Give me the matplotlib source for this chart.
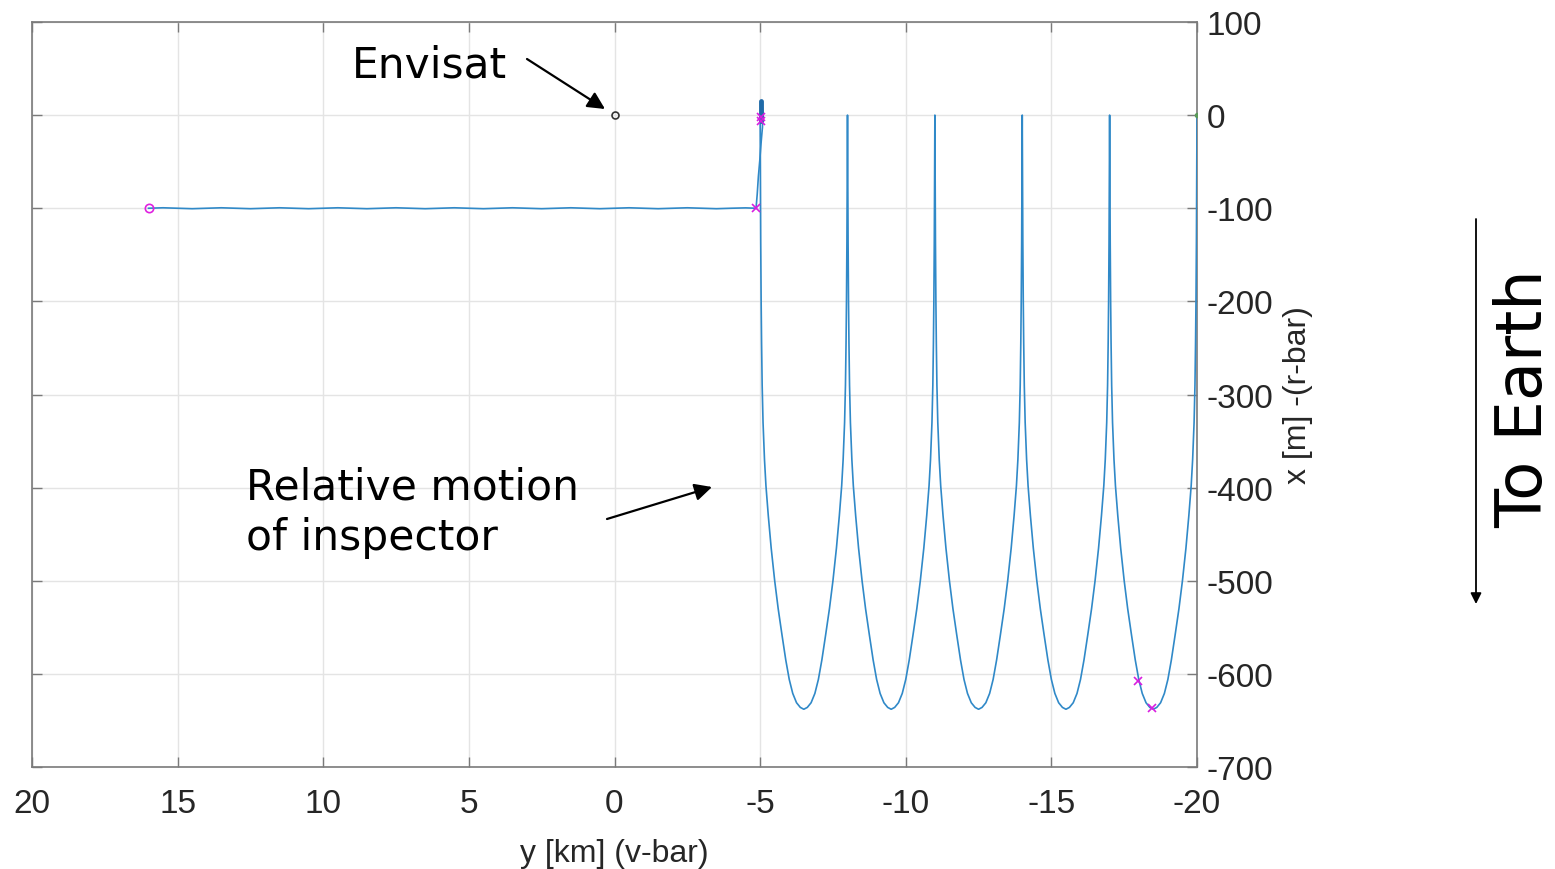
import matplotlib
matplotlib.use("Agg")
import matplotlib.pyplot as plt
from matplotlib import font_manager

# ---------------- data ----------------
xtick_vals = [20, 15, 10, 5, 0, -5, -10, -15, -20]
xtick_labels = ["20", "15", "10", "5", "0", "-5", "-10", "-15", "-20"]
ytick_vals = [100, 0, -100, -200, -300, -400, -500, -600, -700]
ytick_labels = ["100", "0", "-100", "-200", "-300", "-400", "-500", "-600", "-700"]

# drift along the -100 m line (y in km, x in m)
drift_y = [16.0, 15.5, 15.0, 14.5, 14.0, 13.5, 13.0, 12.5, 12.0, 11.5, 11.0, 10.5,
           10.0, 9.5, 9.0, 8.5, 8.0, 7.5, 7.0, 6.5, 6.0, 5.5, 5.0, 4.5, 4.0, 3.5,
           3.0, 2.5, 2.0, 1.5, 1.0, 0.5, 0.0, -0.5, -1.0, -1.5, -2.0, -2.5, -3.0,
           -3.5, -4.0, -4.5, -4.86]
drift_x = [-100.0, -99.5, -100.0, -100.5, -100.0, -99.5, -100.0, -100.5, -100.0, -99.5,
           -100.0, -100.5, -100.0, -99.5, -100.0, -100.5, -100.0, -99.5, -100.0, -100.5,
           -100.0, -99.5, -100.0, -100.5, -100.0, -99.5, -100.0, -100.5, -100.0, -99.5,
           -100.0, -100.5, -100.0, -99.5, -100.0, -100.5, -100.0, -99.5, -100.0, -100.5,
           -100.0, -99.6, -100.0]

# transfer from -100 m up to the target altitude
transfer_y = [-4.86, -4.90, -4.94, -4.99, -5.03, -5.06, -5.08, -5.09, -5.08, -5.06]
transfer_x = [-100.0, -85.0, -66.0, -48.0, -31.0, -20.0, -13.0, 0.0, 6.0, 12.0]

# station keeping near the target
hold_y = [-5.02, -5.02]
hold_x = [-6.0, 15.0]

# one arch of the relative-motion loops: offset from the cusp (km) and depth (m)
arch_d = [0.0, 0.01, 0.02, 0.035, 0.05, 0.07, 0.10, 0.15, 0.20, 0.28, 0.38, 0.50,
          0.62, 0.75, 0.88, 1.00, 1.12, 1.25, 1.38, 1.50,
          1.62, 1.75, 1.88, 2.00, 2.12, 2.25, 2.38, 2.50, 2.62, 2.72, 2.80, 2.85,
          2.90, 2.93, 2.95, 2.965, 2.98, 2.99, 3.0]
arch_x = [0.0, -70.0, -135.0, -200.0, -245.0, -290.0, -330.0, -370.0, -398.0, -430.0,
          -465.0, -500.0, -530.0, -558.0, -585.0, -606.0, -621.0, -631.0, -636.0, -638.0,
          -636.0, -631.0, -621.0, -606.0, -585.0, -558.0, -530.0, -500.0, -465.0, -430.0,
          -398.0, -370.0, -330.0, -290.0, -245.0, -200.0, -135.0, -70.0, 0.0]
# cusp positions where each arch starts (km)
arch_starts = [-5.0, -8.0, -11.0, -14.0, -17.0]

# markers
start_pt = (16.0, -100.0)
target_pt = (0.0, 0.0)
end_pt = (-20.0, 0.0)
mark_y = [-4.86, -5.02, -5.02, -17.97, -18.45]
mark_x = [-100.0, -2.0, -6.0, -608.0, -637.0]

# ---------------- figure ----------------
W, H = 1555, 870
fig = plt.figure(figsize=(W / 100, H / 100), dpi=100)
plt.rcParams["axes.unicode_minus"] = False

names = {f.name for f in font_manager.fontManager.ttflist}
tick_family = "Liberation Sans Narrow" if "Liberation Sans Narrow" in names else "Liberation Sans"
tick_size = 27 if tick_family == "Liberation Sans Narrow" else 24

ax = fig.add_axes([32 / W, 1 - 768 / H, (1197 - 32) / W, (768 - 23) / H])
ax.set_xlim(20, -20)
ax.set_ylim(-700, 100)

line_col = "#3089c8"
ax.plot(drift_y, drift_x, color=line_col, lw=1.2, zorder=3)
ax.plot(transfer_y, transfer_x, color=line_col, lw=1.2, zorder=3)

loop_y, loop_x = [], []
for s in arch_starts:
    for d, xv in zip(arch_d, arch_x):
        loop_y.append(s - d)
        loop_x.append(xv)
ax.plot(loop_y, loop_x, color=line_col, lw=1.2, zorder=3)
ax.plot(hold_y, hold_x, color="#1f6aa8", lw=3.5, solid_capstyle="round", zorder=4)

ax.plot(*start_pt, marker="o", ms=6, mfc="none", mec="#e020e0", mew=1.2, zorder=5)
ax.plot(*target_pt, marker="o", ms=5, mfc="none", mec="#333333", mew=1.2, zorder=5)
ax.plot(*end_pt, marker="o", ms=3, mfc="#5a9a5a", mec="#5a9a5a", zorder=5)
ax.plot(mark_y, mark_x, ls="none", marker="x", ms=6, color="#d81ee0", mew=1.2, zorder=6)

ax.set_xticks(xtick_vals)
ax.set_xticklabels(xtick_labels)
ax.set_yticks(ytick_vals)
ax.set_yticklabels(ytick_labels)
ax.yaxis.tick_right()
ax.yaxis.set_label_position("right")
ax.grid(True, color="#e4e4e4", lw=1.0, zorder=0)
ax.set_axisbelow(True)

spine_col = "#7a7a7a"
for sp in ax.spines.values():
    sp.set_color(spine_col)
    sp.set_linewidth(1.2)
ax.tick_params(axis="both", direction="in", length=7, width=1.0, color=spine_col,
               labelcolor="#262626", labelsize=tick_size, top=True, bottom=True,
               left=True, right=True, labelleft=False, labelright=True)
ax.tick_params(axis="x", pad=15)
ax.tick_params(axis="y", pad=7)
for lab in ax.get_xticklabels() + ax.get_yticklabels():
    lab.set_family(tick_family)

ax.set_xlabel("y [km] (v-bar)", fontsize=tick_size - 1, family=tick_family, color="#262626",
              labelpad=14)
ax.set_ylabel("x [m] -(r-bar)", fontsize=tick_size - 1, family=tick_family, color="#262626",
              labelpad=7, rotation=90)

# ---------------- annotations (figure pixel coordinates) ----------------
def fp(x, y):
    return (x / W, 1 - y / H)

ann_font = "DejaVu Sans"
fig.text(*fp(352, 78), "Envisat", fontsize=30.5, family=ann_font, ha="left", va="baseline")
fig.text(*fp(246, 500), "Relative motion", fontsize=30.5, family=ann_font, ha="left",
         va="baseline")
fig.text(*fp(246, 550), "of inspector", fontsize=30.5, family=ann_font, ha="left",
         va="baseline")

arrow_kw = dict(arrowstyle="-|>", color="black", lw=1.6, mutation_scale=26, shrinkA=0, shrinkB=0)
ax.annotate("", xy=fp(605, 110), xytext=fp(527, 60), xycoords="figure fraction",
            textcoords="figure fraction", arrowprops=arrow_kw)
ax.annotate("", xy=fp(712, 488), xytext=fp(607, 520), xycoords="figure fraction",
            textcoords="figure fraction", arrowprops=arrow_kw)
ax.annotate("", xy=fp(1476, 605), xytext=fp(1476, 220), xycoords="figure fraction",
            textcoords="figure fraction",
            arrowprops=dict(arrowstyle="-|>", color="black", lw=1.3, mutation_scale=16,
                            shrinkA=0, shrinkB=0))
fig.text(*fp(1524, 399), "To Earth", fontsize=46, family=ann_font, rotation=90,
         ha="center", va="center")

fig.savefig("out.png", dpi=100)
